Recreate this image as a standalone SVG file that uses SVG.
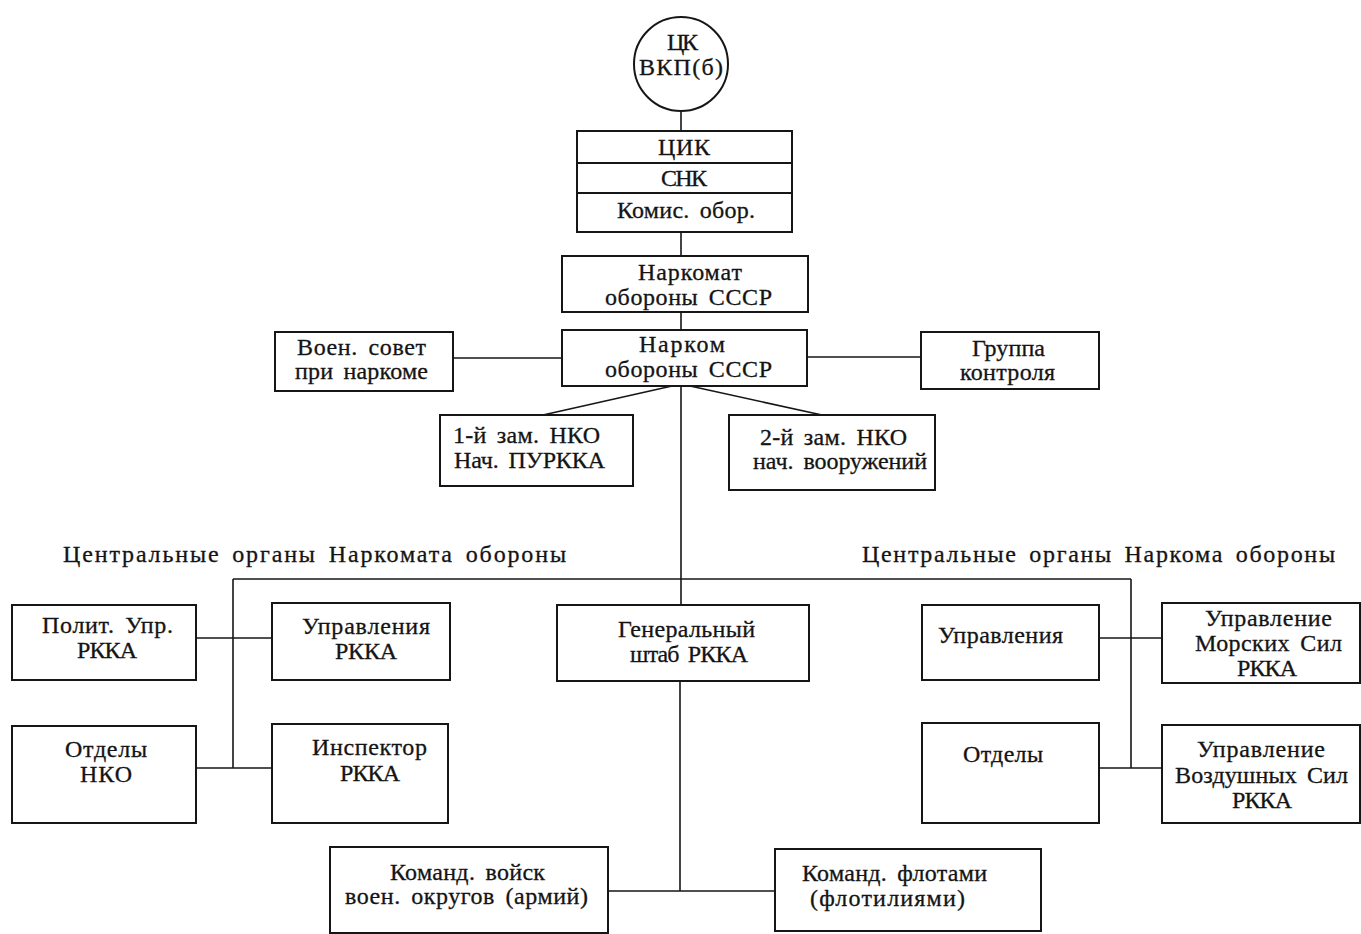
<svg xmlns="http://www.w3.org/2000/svg" width="1361" height="934" viewBox="0 0 1361 934">
<style>
  .bg { fill: #ffffff; }
  .box { fill: #ffffff; stroke: #161616; stroke-width: 2; }
  .div { stroke: #161616; stroke-width: 2; fill: none; }
  .ln { stroke: #161616; stroke-width: 1.6; fill: none; }
  text { font-family: "Liberation Serif", "DejaVu Serif", serif; font-size: 24px; fill: #141414; stroke: #141414; stroke-width: 0.3; word-spacing: 4px; }
</style>
<rect class="bg" x="0" y="0" width="1361" height="934"/>

<g id="connectors">
  <line class="ln" x1="681" y1="111" x2="681" y2="131"/>
  <line class="ln" x1="681" y1="232" x2="681" y2="256"/>
  <line class="ln" x1="681" y1="312" x2="681" y2="330"/>
  <line class="ln" x1="453" y1="358" x2="562" y2="358"/>
  <line class="ln" x1="807" y1="357" x2="921" y2="357"/>
  <line class="ln" x1="672" y1="386" x2="543" y2="415"/>
  <line class="ln" x1="690" y1="386" x2="822" y2="415"/>
  <line class="ln" x1="681" y1="386" x2="681" y2="605"/>
  <line class="ln" x1="233" y1="579" x2="1131" y2="579"/>
  <line class="ln" x1="233" y1="579" x2="233" y2="768"/>
  <line class="ln" x1="196" y1="638" x2="272" y2="638"/>
  <line class="ln" x1="196" y1="768" x2="272" y2="768"/>
  <line class="ln" x1="1131" y1="579" x2="1131" y2="768"/>
  <line class="ln" x1="1099" y1="638" x2="1162" y2="638"/>
  <line class="ln" x1="1099" y1="768" x2="1162" y2="768"/>
  <line class="ln" x1="680" y1="681" x2="680" y2="891"/>
  <line class="ln" x1="608" y1="891" x2="775" y2="891"/>
</g>

<g id="ck">
  <circle class="box" cx="681" cy="64" r="47"/>
  <text x="667" y="50" textLength="31" lengthAdjust="spacing">ЦК</text>
  <text x="639" y="75" textLength="84" lengthAdjust="spacing">ВКП(б)</text>
</g>

<g id="cik-snk">
  <rect class="box" x="577" y="131" width="215" height="101"/>
  <line class="div" x1="577" y1="163" x2="792" y2="163"/>
  <line class="div" x1="577" y1="193" x2="792" y2="193"/>
  <text x="658" y="155" textLength="52" lengthAdjust="spacing">ЦИК</text>
  <text x="661" y="186" textLength="46" lengthAdjust="spacing">СНК</text>
  <text x="617" y="218" textLength="138" lengthAdjust="spacing">Комис. обор.</text>
</g>

<g id="narkomat">
  <rect class="box" x="562" y="256" width="246" height="56"/>
  <text x="638" y="280" textLength="104" lengthAdjust="spacing">Наркомат</text>
  <text x="605" y="305" textLength="167" lengthAdjust="spacing">обороны СССР</text>
</g>

<g id="narkom">
  <rect class="box" x="562" y="330" width="245" height="56"/>
  <text x="639" y="352" textLength="86" lengthAdjust="spacing">Нарком</text>
  <text x="605" y="377" textLength="167" lengthAdjust="spacing">обороны СССР</text>
</g>

<g id="voensovet">
  <rect class="box" x="275" y="332" width="178" height="59"/>
  <text x="297" y="355" textLength="129" lengthAdjust="spacing">Воен. совет</text>
  <text x="295" y="379" textLength="133" lengthAdjust="spacing">при наркоме</text>
</g>

<g id="gruppa">
  <rect class="box" x="921" y="332" width="178" height="57"/>
  <text x="972" y="356" textLength="73" lengthAdjust="spacing">Группа</text>
  <text x="960" y="380" textLength="95" lengthAdjust="spacing">контроля</text>
</g>

<g id="zam1">
  <rect class="box" x="440" y="415" width="193" height="71"/>
  <text x="453" y="443" textLength="147" lengthAdjust="spacing">1-й зам. НКО</text>
  <text x="454" y="468" textLength="151" lengthAdjust="spacing">Нач. ПУРККА</text>
</g>

<g id="zam2">
  <rect class="box" x="729" y="415" width="206" height="75"/>
  <text x="760" y="445" textLength="147" lengthAdjust="spacing">2-й зам. НКО</text>
  <text x="753" y="469" textLength="174" lengthAdjust="spacing">нач. вооружений</text>
</g>

<g id="headings">
  <text x="63" y="562" textLength="503" lengthAdjust="spacing">Центральные органы Наркомата обороны</text>
  <text x="862" y="562" textLength="473" lengthAdjust="spacing">Центральные органы Наркома обороны</text>
</g>

<g id="polit">
  <rect class="box" x="12" y="605" width="184" height="75"/>
  <text x="42" y="633" textLength="131" lengthAdjust="spacing">Полит. Упр.</text>
  <text x="77" y="658" textLength="60" lengthAdjust="spacing">РККА</text>
</g>

<g id="upravl-rkka">
  <rect class="box" x="272" y="603" width="178" height="77"/>
  <text x="302" y="634" textLength="128" lengthAdjust="spacing">Управления</text>
  <text x="335" y="659" textLength="62" lengthAdjust="spacing">РККА</text>
</g>

<g id="otdely-nko">
  <rect class="box" x="12" y="726" width="184" height="97"/>
  <text x="65" y="757" textLength="82" lengthAdjust="spacing">Отделы</text>
  <text x="80" y="782" textLength="52" lengthAdjust="spacing">НКО</text>
</g>

<g id="inspektor">
  <rect class="box" x="272" y="724" width="176" height="99"/>
  <text x="312" y="755" textLength="115" lengthAdjust="spacing">Инспектор</text>
  <text x="340" y="781" textLength="60" lengthAdjust="spacing">РККА</text>
</g>

<g id="genshtab">
  <rect class="box" x="557" y="605" width="252" height="76"/>
  <text x="618" y="637" textLength="137" lengthAdjust="spacing">Генеральный</text>
  <text x="630" y="662" textLength="118" lengthAdjust="spacing">штаб РККА</text>
</g>

<g id="upravl-right">
  <rect class="box" x="922" y="605" width="177" height="75"/>
  <text x="938" y="643" textLength="125" lengthAdjust="spacing">Управления</text>
</g>

<g id="morskie">
  <rect class="box" x="1162" y="603" width="198" height="80"/>
  <text x="1205" y="626" textLength="127" lengthAdjust="spacing">Управление</text>
  <text x="1195" y="651" textLength="147" lengthAdjust="spacing">Морских Сил</text>
  <text x="1237" y="676" textLength="60" lengthAdjust="spacing">РККА</text>
</g>

<g id="otdely-right">
  <rect class="box" x="922" y="723" width="177" height="100"/>
  <text x="963" y="762" textLength="80" lengthAdjust="spacing">Отделы</text>
</g>

<g id="vozdushnye">
  <rect class="box" x="1162" y="725" width="198" height="98"/>
  <text x="1197" y="757" textLength="128" lengthAdjust="spacing">Управление</text>
  <text x="1175" y="783" textLength="173" lengthAdjust="spacing">Воздушных Сил</text>
  <text x="1232" y="808" textLength="60" lengthAdjust="spacing">РККА</text>
</g>

<g id="komand-voisk">
  <rect class="box" x="330" y="847" width="278" height="86"/>
  <text x="390" y="880" textLength="155" lengthAdjust="spacing">Команд. войск</text>
  <text x="345" y="904" textLength="243" lengthAdjust="spacing">воен. округов (армий)</text>
</g>

<g id="komand-flot">
  <rect class="box" x="775" y="849" width="266" height="82"/>
  <text x="802" y="881" textLength="185" lengthAdjust="spacing">Команд. флотами</text>
  <text x="810" y="906" textLength="155" lengthAdjust="spacing">(флотилиями)</text>
</g>
</svg>
